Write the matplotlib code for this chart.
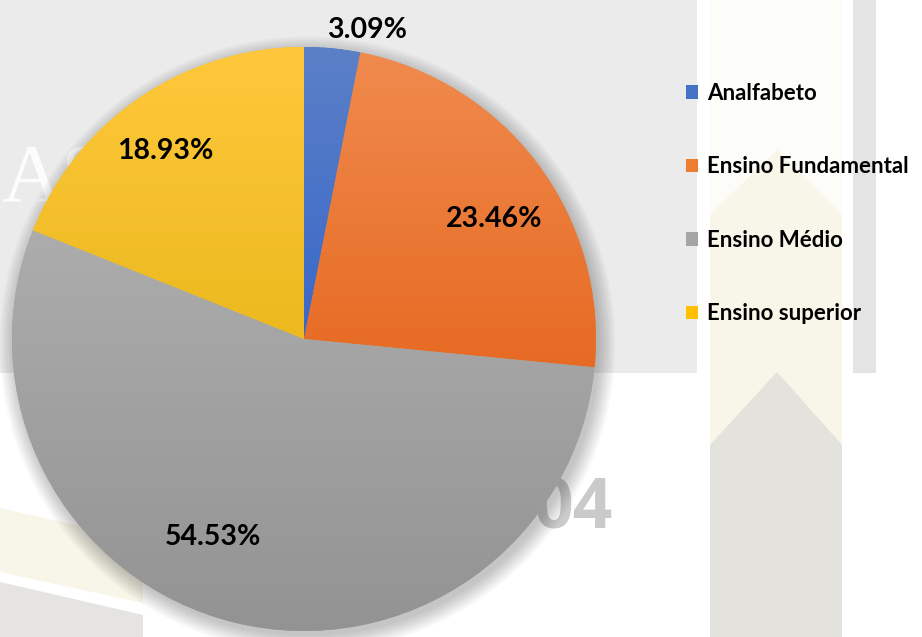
import numpy as np
import matplotlib
matplotlib.use("Agg")
import matplotlib.pyplot as plt
from matplotlib.patches import Rectangle, Polygon, Ellipse
from matplotlib.colors import LinearSegmentedColormap

# ---- data ----
categories = ["Analfabeto", "Ensino Fundamental", "Ensino Médio", "Ensino superior"]
values = [3.09, 23.46, 54.53, 18.93]
labels = ["3.09%", "23.46%", "54.53%", "18.93%"]

# ---- style ----
base_colors = ["#4472C4", "#ED7D31", "#A5A5A5", "#FFC000"]
grad_top = ["#5C80C8", "#F08B4E", "#B8B8B8", "#FFC83C"]
grad_bot = ["#134FC7", "#DF4F00", "#939393", "#D9AA00"]
label_shift = [-6.0, -4.3, -11.0, 2.5]     # degrees from wedge middle
label_rad = [1.08, 0.77, 0.745, 0.80]

W, H = 922, 637
CX, CY, R = 304, 339, 292

plt.rcParams["font.family"] = ["Lato", "DejaVu Sans"]
fig = plt.figure(figsize=(W / 100, H / 100), dpi=100)

# ---- background (pixel coordinates) ----
bg = fig.add_axes([0, 0, 1, 1], zorder=0)
bg.set_xlim(0, W)
bg.set_ylim(H, 0)
bg.axis("off")
bg.add_patch(Rectangle((0, 0), 697, 373, color="#ebebeb", lw=0))
bg.add_patch(Rectangle((853, 0), 23, 373, color="#e4e4e4", lw=0))
bg.add_patch(Rectangle((710, 0), 132, H, color="#f8f6e8", lw=0))
bg.add_patch(Polygon([(710, 0), (842, 0), (842, 215), (777, 150), (710, 215)],
                     closed=True, color="#fcfcf8", lw=0))
bg.add_patch(Polygon([(710, 445), (777, 372), (842, 445), (842, H), (710, H)],
                     closed=True, color="#e3e2dc", lw=0))
bg.add_patch(Polygon([(0, 508), (143, 540), (143, 603), (0, 572)],
                     closed=True, color="#f8f6e9", lw=0))
bg.add_patch(Polygon([(0, 582), (143, 615), (143, H), (0, H)],
                     closed=True, color="#e5e4e0", lw=0))
bg.text(1, 201, "AS", color="white", fontsize=60, family="Liberation Serif",
        ha="left", va="baseline", alpha=0.9)
bg.text(613, 528, "04", color="#cacaca", fontsize=50, family="Open Sans",
        fontweight="bold", ha="right", va="baseline")

# ---- pie axes ----
ax = fig.add_axes([0, 0, 1, 1], zorder=1)
ax.patch.set_alpha(0)
ax.axis("off")

# soft shadow
for i in range(10):
    ax.add_patch(Ellipse((0.012, -0.018), 2 + 0.012 * i, 2 + 0.012 * i,
                         color="black", alpha=0.025, lw=0, zorder=0.5))

wedges, _ = ax.pie(values, startangle=90, counterclock=False, colors=base_colors,
                   radius=1.0, wedgeprops=dict(linewidth=0, zorder=1))

for w, ct, cb in zip(wedges, grad_top, grad_bot):
    cmap = LinearSegmentedColormap.from_list("g", [ct, cb])
    im = ax.imshow(np.linspace(0, 1, 256).reshape(-1, 1), cmap=cmap,
                   extent=(-1, 1, -1, 1), aspect="auto", zorder=1.5,
                   interpolation="bilinear")
    im.set_clip_path(w)

ax.set_xlim(-CX / R, (W - CX) / R)
ax.set_ylim(-(H - CY) / R, CY / R)

for w, lab, sh, rr in zip(wedges, labels, label_shift, label_rad):
    mid = np.deg2rad((w.theta1 + w.theta2) / 2 + sh)
    ax.text(rr * np.cos(mid), rr * np.sin(mid), lab, ha="center", va="center",
            fontsize=20.5, fontweight="bold", color="black", zorder=3)

leg = ax.legend(wedges, categories, loc="upper left", frameon=False,
                bbox_to_anchor=(686 / W, 1 - 83 / H), bbox_transform=fig.transFigure,
                prop=dict(family="Lato", weight="bold", size=16),
                handlelength=0.55, handleheight=0.55, handletextpad=0.38,
                labelspacing=2.36, borderpad=0, borderaxespad=0)

fig.savefig("out.png", dpi=100)
